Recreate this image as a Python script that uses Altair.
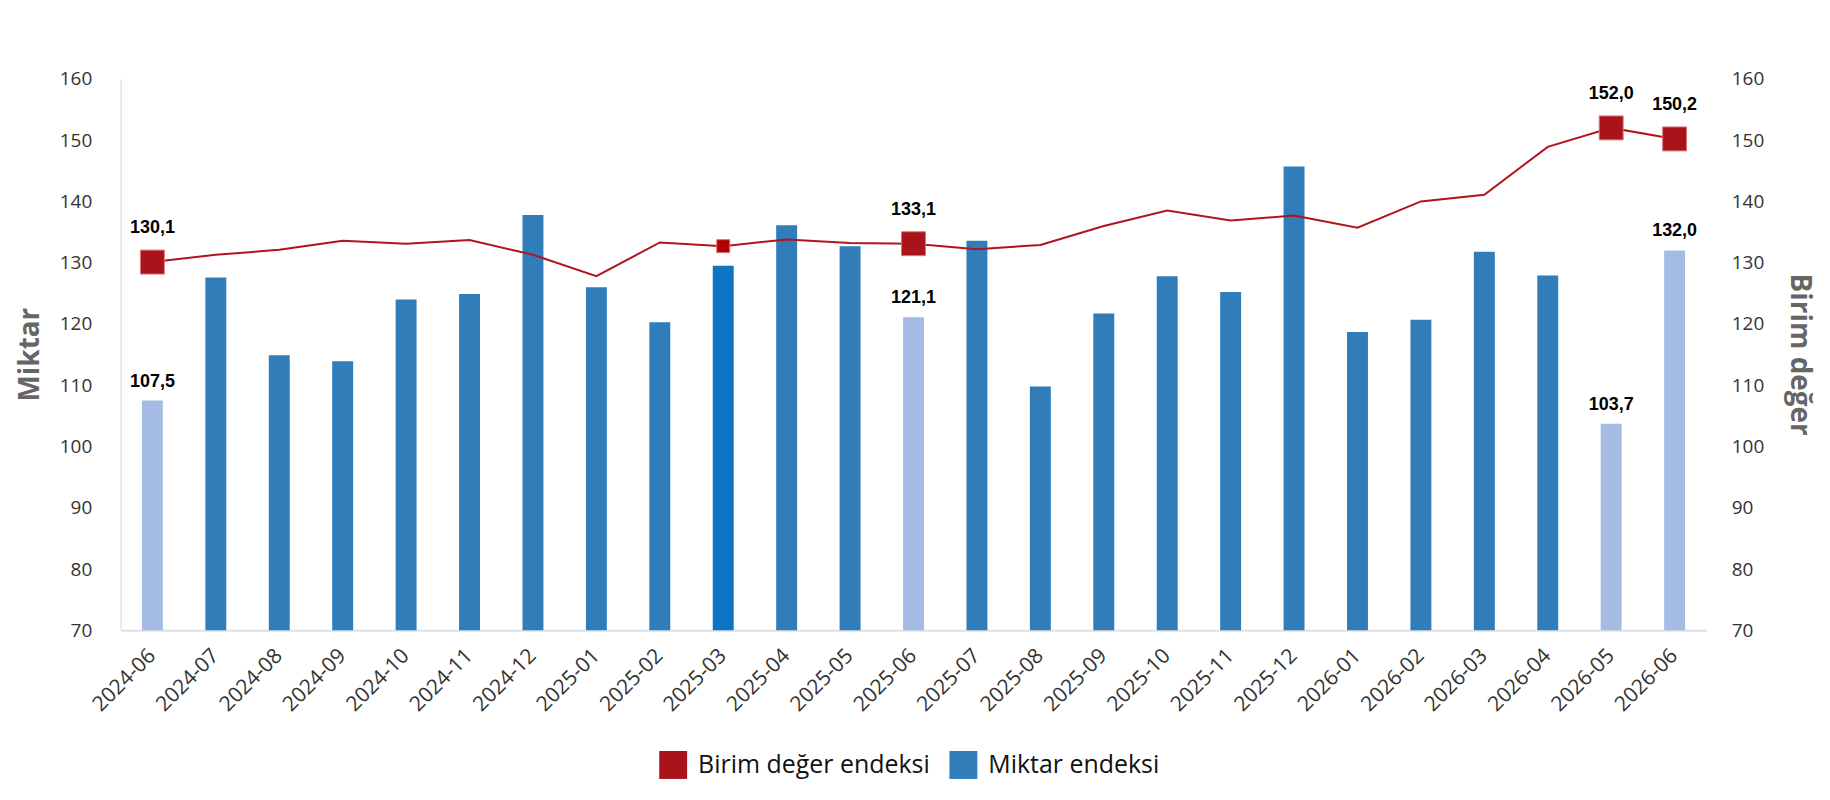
import altair as alt
import pandas as pd
import numpy as np

months = ["2024-06", "2024-07", "2024-08", "2024-09", "2024-10", "2024-11", "2024-12",
          "2025-01", "2025-02", "2025-03", "2025-04", "2025-05", "2025-06", "2025-07",
          "2025-08", "2025-09", "2025-10", "2025-11", "2025-12",
          "2026-01", "2026-02", "2026-03", "2026-04", "2026-05", "2026-06"]
miktar = [107.5, 127.6, 114.9, 113.9, 124.0, 124.9, 137.8, 126.0, 120.3, 129.5, 136.1, 132.7,
          121.1, 133.6, 109.8, 121.7, 127.8, 125.2, 145.7, 118.7, 120.7, 131.8, 127.9, 103.7, 132.0]
birim = [130.1, 131.3, 132.1, 133.6, 133.1, 133.7, 131.3, 127.8, 133.3, 132.7, 133.8, 133.2,
         133.1, 132.2, 132.9, 136.0, 138.5, 136.9, 137.7, 135.7, 140.0, 141.1, 148.9, 152.0, 150.2]
highlight_months = ["2024-06", "2025-06", "2026-05", "2026-06"]
hover_month = "2025-03"
series_names = ["Birim değer endeksi", "Miktar endeksi"]

RED = "#a8141a"
LINE_RED = "#b0141c"
BLUE = "#317dba"
LIGHT = "#a4bce4"
HOVER = "#0f75c2"

df = pd.DataFrame({"ay": months, "miktar": miktar, "birim": birim})
df["vurgu"] = df["ay"].isin(highlight_months)
df["tone"] = np.where(df["vurgu"], "light",
                      np.where(df["ay"] == hover_month, "hover", series_names[1]))
df["m_lab"] = df["miktar"].map(lambda v: f"{v:.1f}".replace(".", ","))
df["b_lab"] = df["birim"].map(lambda v: f"{v:.1f}".replace(".", ","))
hl = df[df["vurgu"]]
hv = df[df["ay"] == hover_month]

FONT = "Open Sans"

x = alt.X("ay:N", sort=months,
          scale=alt.Scale(paddingInner=0, paddingOuter=0),
          axis=alt.Axis(title=None, labelAngle=-45, labelAlign="right", labelBaseline="middle",
                        labelFont=FONT, labelFontSize=21, labelColor="#333333",
                        ticks=False, tickSize=0, labelPadding=22, grid=False,
                        domainColor="#dde2e8", domainWidth=2, labelOverlap=False,
                        labelLimit=0))

yscale = alt.Scale(domain=[70, 160], nice=False, zero=False)
ticks_vals = list(range(70, 161, 10))

yL = alt.Y("miktar:Q", scale=yscale,
           axis=alt.Axis(title="Miktar", orient="left", values=ticks_vals, grid=False,
                         ticks=False, tickSize=0, domain=True, domainColor="#dfe4ea",
                         domainWidth=1.5, labelFont=FONT, labelFontSize=19,
                         labelColor="#333333", labelPadding=29,
                         titleFont=FONT, titleFontWeight="bold", titleFontSize=28,
                         titleColor="#666666", titleX=-90, titleY=276, titleAngle=270,
                         titleAlign="center", titleBaseline="middle"))

yR = alt.Y("birim:Q", scale=yscale,
           axis=alt.Axis(title="Birim değer", orient="right", values=ticks_vals, grid=False,
                         ticks=False, tickSize=0, domain=False, labelFont=FONT,
                         labelFontSize=19, labelColor="#333333", labelPadding=25,
                         titleFont=FONT, titleFontWeight="bold", titleFontSize=28,
                         titleColor="#666666", titleX=92, titleY=276, titleAngle=90,
                         titleAlign="center", titleBaseline="middle"))

base = alt.Chart(df)

bars = base.mark_bar(size=21).encode(
    x=x, y=yL, y2=alt.datum(70),
    color=alt.Color("tone:N",
                    scale=alt.Scale(domain=series_names + ["light", "hover"],
                                    range=[RED, BLUE, LIGHT, HOVER]),
                    legend=alt.Legend(title=None, values=series_names, orient="none",
                                      legendX=540, legendY=674, direction="horizontal",
                                      symbolType="square", symbolSize=784,
                                      symbolStrokeWidth=0, labelFont=FONT,
                                      labelFontSize=25, labelColor="#111111",
                                      labelLimit=0, columnPadding=19, labelOffset=11)),
    tooltip=[alt.Tooltip("ay:N"), alt.Tooltip("birim:Q", title="Birim değer endeksi"),
             alt.Tooltip("miktar:Q", title="Miktar endeksi")])

bar_labels = alt.Chart(hl).mark_text(dy=-19, font="Liberation Sans", fontWeight="bold",
                                     fontSize=18, color="#000000").encode(
    x=x, y=yL, text="m_lab:N")

left = alt.layer(bars, bar_labels)

line = base.mark_line(color=LINE_RED, strokeWidth=2).encode(x=x, y=yR)
pts = alt.Chart(hl).mark_square(size=576, color=RED, stroke="#d9777b", strokeWidth=1,
                                opacity=1).encode(x=x, y=yR)
hover_pt = alt.Chart(hv).mark_square(size=169, color="#b00000", stroke="#e07070",
                                     strokeWidth=1, opacity=1).encode(x=x, y=yR)
pt_labels = alt.Chart(hl).mark_text(dy=-34, font="Liberation Sans", fontWeight="bold",
                                    fontSize=18, color="#000000").encode(
    x=x, y=yR, text="b_lab:N")

right = alt.layer(line, pts, hover_pt, pt_labels)

chart = alt.layer(left, right).resolve_scale(y="independent").properties(
    width=1590, height=553,
    autosize=alt.AutoSizeParams(type="none"),
    padding={"left": 113, "top": 70, "right": 116, "bottom": 155},
).configure_view(stroke=None)

chart.save("out.html", embed_options={"renderer": "svg", "actions": False})
